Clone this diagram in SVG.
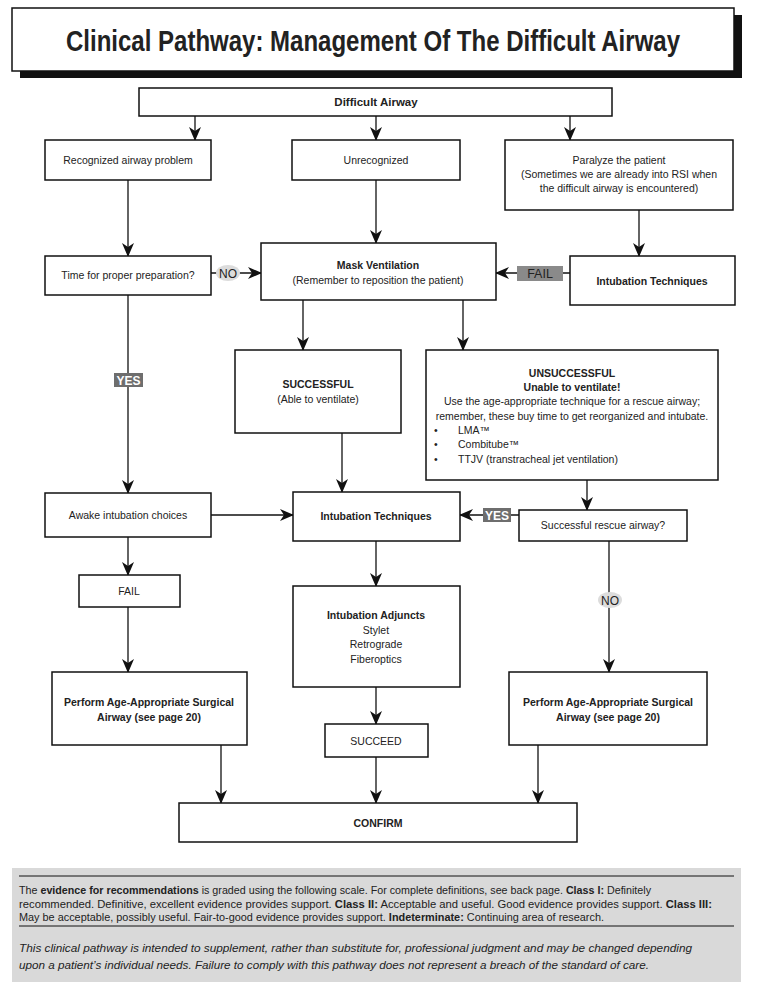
<svg xmlns="http://www.w3.org/2000/svg" width="764" height="999" viewBox="0 0 764 999">
<defs>
<marker id="ah" viewBox="0 0 14 12" refX="13" refY="6" markerWidth="14" markerHeight="12" markerUnits="userSpaceOnUse" orient="auto">
<path d="M0,0 L14,6 L0,12 L4,6 Z" fill="#111"/>
</marker>
<style>
.box{fill:#fff;stroke:#111;stroke-width:1.5}
.t{font-family:"Liberation Sans",Arial,sans-serif;font-size:10.5px;fill:#222;text-anchor:middle}
.b{font-weight:bold}
.c{fill:none;stroke:#111;stroke-width:1.3}
.a{marker-end:url(#ah)}
.ft{font-family:"Liberation Sans",Arial,sans-serif;font-size:10px;fill:#222}
.it{font-family:"Liberation Sans",Arial,sans-serif;font-size:11.5px;fill:#222;font-style:italic}
</style>
</defs>
<rect width="764" height="999" fill="#fff"/>

<g id="title">
<rect x="20" y="15" width="722" height="63" fill="#111"/>
<rect x="12" y="8" width="722" height="63" fill="#fff" stroke="#111" stroke-width="1.5"/>
<text transform="translate(373,51) scale(1,1.3)" x="0" y="0" font-family="Liberation Sans,Arial,sans-serif" font-size="22" font-weight="bold" fill="#222" text-anchor="middle" textLength="614" lengthAdjust="spacingAndGlyphs">Clinical Pathway: Management Of The Difficult Airway</text>
</g>

<g id="connectors">
<line class="c a" x1="195" y1="116" x2="195" y2="140"/>
<line class="c a" x1="376" y1="116" x2="376" y2="140"/>
<line class="c a" x1="570" y1="116" x2="570" y2="140"/>
<line class="c a" x1="128" y1="180" x2="128" y2="256"/>
<line class="c a" x1="376" y1="180" x2="376" y2="243"/>
<line class="c a" x1="639" y1="210" x2="639" y2="256"/>
<line class="c a" x1="211" y1="273" x2="261" y2="273"/>
<line class="c a" x1="570" y1="273" x2="496" y2="273"/>
<line class="c a" x1="303" y1="300" x2="303" y2="350"/>
<line class="c a" x1="463" y1="300" x2="463" y2="350"/>
<line class="c a" x1="128" y1="295" x2="128" y2="493"/>
<line class="c a" x1="342" y1="433" x2="342" y2="492"/>
<line class="c a" x1="587" y1="480" x2="587" y2="510"/>
<line class="c a" x1="211" y1="515" x2="293" y2="515"/>
<line class="c a" x1="519" y1="515" x2="460" y2="515"/>
<line class="c a" x1="128" y1="537" x2="128" y2="575"/>
<line class="c a" x1="128" y1="607" x2="128" y2="672"/>
<line class="c a" x1="376" y1="541" x2="376" y2="586"/>
<line class="c a" x1="609" y1="541" x2="609" y2="672"/>
<line class="c a" x1="376" y1="687" x2="376" y2="724"/>
<line class="c a" x1="221" y1="745" x2="221" y2="803"/>
<line class="c a" x1="376" y1="757" x2="376" y2="803"/>
<line class="c a" x1="538" y1="745" x2="538" y2="803"/>
</g>

<g id="lbl-no1">
<ellipse cx="228" cy="273" rx="12" ry="8" fill="#dcdcdc"/>
<text class="t" x="228" y="277.5" style="font-size:12px">NO</text>
</g>
<g id="lbl-fail">
<rect x="517" y="266" width="46" height="15" fill="#8a8a8a"/>
<text class="t" x="540" y="278" style="font-size:12.5px;fill:#222">FAIL</text>
</g>
<g id="lbl-yes1">
<rect x="114" y="373" width="29" height="14" fill="#6e6e6e"/>
<text class="t b" x="128.5" y="384.5" style="font-size:12px;fill:#fff">YES</text>
</g>
<g id="lbl-yes2">
<rect x="483" y="508" width="28" height="14" fill="#6e6e6e"/>
<text class="t b" x="497" y="519.5" style="font-size:12px;fill:#fff">YES</text>
</g>
<g id="lbl-no2">
<ellipse cx="610" cy="600" rx="12" ry="8" fill="#dcdcdc"/>
<text class="t" x="610" y="604.5" style="font-size:12px">NO</text>
</g>

<g id="n-difficult">
<rect class="box" x="139" y="88" width="473" height="28"/>
<text class="t b" x="376" y="106" style="font-size:11.5px">Difficult Airway</text>
</g>
<g id="n-recognized">
<rect class="box" x="45" y="140" width="166" height="40"/>
<text class="t" x="128" y="164">Recognized airway problem</text>
</g>
<g id="n-unrecognized">
<rect class="box" x="292" y="140" width="168" height="40"/>
<text class="t" x="376" y="164">Unrecognized</text>
</g>
<g id="n-paralyze">
<rect class="box" x="505" y="140" width="228" height="70"/>
<text class="t" x="619" y="164">Paralyze the patient</text>
<text class="t" x="619" y="178">(Sometimes we are already into RSI when</text>
<text class="t" x="619" y="192">the difficult airway is encountered)</text>
</g>
<g id="n-time">
<rect class="box" x="45" y="256" width="166" height="39"/>
<text class="t" x="128" y="279">Time for proper preparation?</text>
</g>
<g id="n-mask">
<rect class="box" x="261" y="243" width="235" height="57"/>
<text class="t b" x="378" y="269">Mask Ventilation</text>
<text class="t" x="378" y="284">(Remember to reposition the patient)</text>
</g>
<g id="n-intub-right">
<rect class="box" x="570" y="256" width="165" height="49"/>
<text class="t b" x="652" y="285">Intubation Techniques</text>
</g>
<g id="n-successful">
<rect class="box" x="235" y="350" width="166" height="83"/>
<text class="t b" x="318" y="388">SUCCESSFUL</text>
<text class="t" x="318" y="403">(Able to ventilate)</text>
</g>
<g id="n-unsuccessful">
<rect class="box" x="426" y="350" width="292" height="130"/>
<text class="t b" x="572" y="377">UNSUCCESSFUL</text>
<text class="t b" x="572" y="391">Unable to ventilate!</text>
<text class="t" x="572" y="405">Use the age-appropriate technique for a rescue airway;</text>
<text class="t" x="572" y="420">remember, these buy time to get reorganized and intubate.</text>
<text class="t" x="434" y="434" style="text-anchor:start">•</text>
<text class="t" x="458" y="434" style="text-anchor:start">LMA™</text>
<text class="t" x="434" y="448" style="text-anchor:start">•</text>
<text class="t" x="458" y="448" style="text-anchor:start">Combitube™</text>
<text class="t" x="434" y="463" style="text-anchor:start">•</text>
<text class="t" x="458" y="463" style="text-anchor:start">TTJV (transtracheal jet ventilation)</text>
</g>
<g id="n-awake">
<rect class="box" x="45" y="493" width="166" height="44"/>
<text class="t" x="128" y="519">Awake intubation choices</text>
</g>
<g id="n-intub-center">
<rect class="box" x="293" y="492" width="167" height="49"/>
<text class="t b" x="376" y="520">Intubation Techniques</text>
</g>
<g id="n-rescue">
<rect class="box" x="519" y="510" width="168" height="31"/>
<text class="t" x="603" y="529">Successful rescue airway?</text>
</g>
<g id="n-fail">
<rect class="box" x="79" y="575" width="101" height="32"/>
<text class="t" x="129" y="595">FAIL</text>
</g>
<g id="n-adjuncts">
<rect class="box" x="293" y="586" width="167" height="101"/>
<text class="t b" x="376" y="619">Intubation Adjuncts</text>
<text class="t" x="376" y="634">Stylet</text>
<text class="t" x="376" y="648">Retrograde</text>
<text class="t" x="376" y="663">Fiberoptics</text>
</g>
<g id="n-surgical-left">
<rect class="box" x="52" y="672" width="195" height="73"/>
<text class="t b" x="149" y="706">Perform Age-Appropriate Surgical</text>
<text class="t b" x="149" y="721">Airway (see page 20)</text>
</g>
<g id="n-surgical-right">
<rect class="box" x="509" y="672" width="198" height="73"/>
<text class="t b" x="608" y="706">Perform Age-Appropriate Surgical</text>
<text class="t b" x="608" y="721">Airway (see page 20)</text>
</g>
<g id="n-succeed">
<rect class="box" x="325" y="724" width="103" height="33"/>
<text class="t" x="376" y="745">SUCCEED</text>
</g>
<g id="n-confirm">
<rect class="box" x="179" y="803" width="398" height="39"/>
<text class="t b" x="378" y="827">CONFIRM</text>
</g>

<g id="footer">
<rect x="12" y="868" width="729" height="114" fill="#d9d9d9"/>
<line x1="19" y1="876" x2="734" y2="876" stroke="#111" stroke-width="1"/>
<line x1="19" y1="926" x2="734" y2="926" stroke="#111" stroke-width="1"/>
<text class="ft" x="19" y="894" textLength="632" lengthAdjust="spacingAndGlyphs">The <tspan font-weight="bold">evidence for recommendations</tspan> is graded using the following scale. For complete definitions, see back page. <tspan font-weight="bold">Class I:</tspan> Definitely</text>
<text class="ft" x="19" y="908" textLength="693" lengthAdjust="spacingAndGlyphs">recommended. Definitive, excellent evidence provides support. <tspan font-weight="bold">Class II:</tspan> Acceptable and useful. Good evidence provides support. <tspan font-weight="bold">Class III:</tspan></text>
<text class="ft" x="19" y="921" textLength="585" lengthAdjust="spacingAndGlyphs">May be acceptable, possibly useful. Fair-to-good evidence provides support. <tspan font-weight="bold">Indeterminate:</tspan> Continuing area of research.</text>
<text class="it" x="19" y="952" textLength="673" lengthAdjust="spacingAndGlyphs">This clinical pathway is intended to supplement, rather than substitute for, professional judgment and may be changed depending</text>
<text class="it" x="19" y="969" textLength="630" lengthAdjust="spacingAndGlyphs">upon a patient’s individual needs. Failure to comply with this pathway does not represent a breach of the standard of care.</text>
</g>
</svg>
